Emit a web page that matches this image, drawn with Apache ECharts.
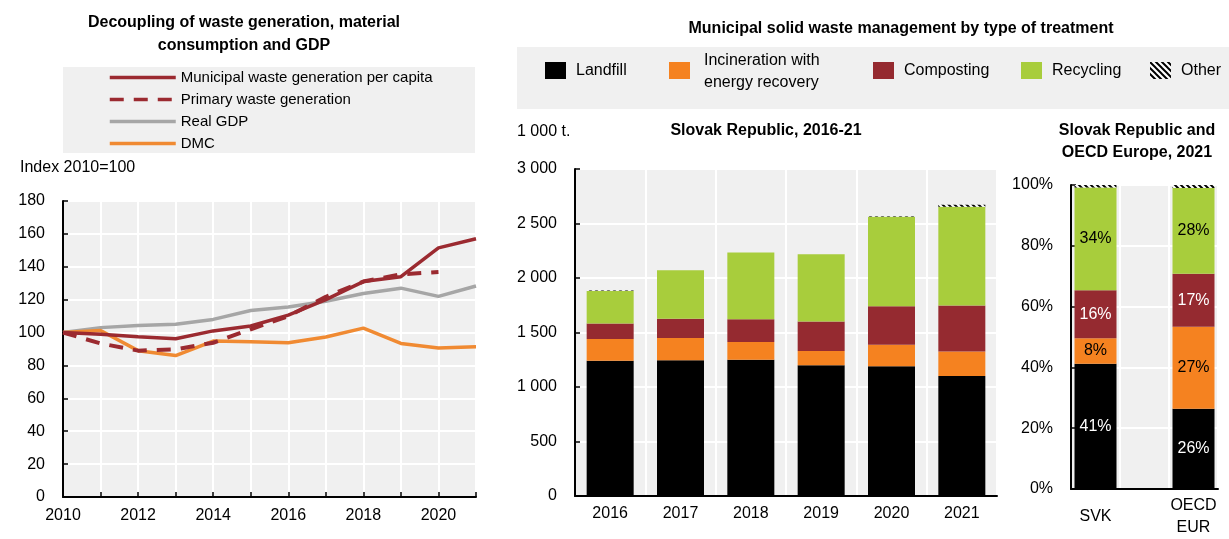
<!DOCTYPE html>
<html>
<head>
<meta charset="utf-8">
<script src="https://cdn.jsdelivr.net/npm/echarts@6/dist/echarts.min.js"></script>
<style>
  html, body { margin: 0; padding: 0; background: #fff; }
  #chart { width: 1229px; height: 539px; }
</style>
</head>
<body>
<div id="chart"></div>
<script>
// left panel: index 2010=100
const years = ['2010', '2011', '2012', '2013', '2014', '2015', '2016', '2017', '2018', '2019', '2020', '2021'];
const municipalWaste = [100, 99, 97.5, 96.2, 101, 104, 110.6, 120, 131, 134, 151.5, 157];
const primaryWaste = [100, 93.4, 89, 89.8, 93.8, 102, 110, 121.7, 131, 135.4, 136.8, null];
const realGdp = [100, 103, 104.3, 105, 108, 113.4, 115.6, 119, 123.7, 127, 122, 128.3];
const dmc = [100, 101.3, 89, 86, 94.8, 94.4, 93.8, 97.3, 102.7, 93.4, 90.6, 91.4];

// middle panel: 1 000 t.
const barYears = ['2016', '2017', '2018', '2019', '2020', '2021'];
const landfill = [1240, 1245, 1250, 1200, 1190, 1100];
const incineration = [200, 205, 162, 130, 198, 225];
const composting = [142, 177, 210, 270, 353, 423];
const recycling = [298, 443, 611, 619, 822, 905];
const other = [6, 0, 0, 0, 4, 20];

// right panel: shares 2021 (%)
const shareCats = ['SVK', '', 'OECD\nEUR'];
const shareLandfill = [41.2, '-', 26.4];
const shareIncineration = [8.4, '-', 27.0];
const shareComposting = [15.8, '-', 17.4];
const shareRecycling = [33.8, '-', 28.2];
const shareOther = [0.8, '-', 1.0];

const FONT = "'Liberation Sans', Arial, sans-serif";
const C_LAND = '#000000';
const C_INC = '#f58220';
const C_COMP = '#952a30';
const C_REC = '#a8cd3c';
const C_RED = '#9b2a30';
const C_GDP = '#a6a6a6';
const C_DMC = '#f08a32';
const BG = '#f0f0f0';

// hatch pattern for "Other"
function makeHatch() {
  const c = document.createElement('canvas');
  c.width = 6;
  c.height = 6;
  const ctx = c.getContext('2d');
  ctx.fillStyle = '#fff';
  ctx.fillRect(0, 0, 6, 6);
  ctx.strokeStyle = '#000';
  ctx.lineWidth = 2;
  ctx.beginPath();
  ctx.moveTo(-3, -3); ctx.lineTo(9, 9);
  ctx.moveTo(-6, 0); ctx.lineTo(0, 6);
  ctx.moveTo(0, -6); ctx.lineTo(6, 0);
  ctx.moveTo(3, -3); ctx.lineTo(9, 3);
  ctx.moveTo(-3, 3); ctx.lineTo(3, 9);
  ctx.stroke();
  return { image: c, repeat: 'repeat' };
}
const HATCH = makeHatch();

function spaced(v) {
  return String(v).replace(/\B(?=(\d{3})+(?!\d))/g, ' ');
}

const chart = echarts.init(document.getElementById('chart'));

const axisText = { color: '#000', fontSize: 16, fontFamily: FONT };
const blackLine = { lineStyle: { color: '#000', width: 2 } };
const whiteSplit = { show: true, lineStyle: { color: '#fff', width: 2 } };

function legendItem(name, left, top) {
  return {
    data: [name],
    left: left,
    top: top,
    icon: 'rect',
    itemWidth: 21,
    itemHeight: 17,
    itemGap: 0,
    padding: 0,
    selectedMode: false,
    textStyle: { color: '#000', fontSize: 16, fontFamily: FONT, padding: [0, 0, 0, 5] }
  };
}

function label(color) {
  return {
    show: true,
    color: color,
    fontSize: 16,
    fontFamily: FONT,
    formatter: p => Math.round(p.value) + '%'
  };
}

const option = {
  animation: false,
  textStyle: { fontFamily: FONT },
  graphic: [
    { type: 'rect', shape: { x: 63, y: 67, width: 412, height: 86 }, style: { fill: BG }, z: -1 },
    { type: 'rect', shape: { x: 517, y: 47, width: 712, height: 62 }, style: { fill: BG }, z: -1 },
    {
      type: 'text', x: 244, y: 34,
      style: {
        text: 'Decoupling of waste generation, material\nconsumption and GDP',
        font: 'bold 16px ' + FONT, fill: '#000', align: 'center', verticalAlign: 'middle', lineHeight: 23
      }
    },
    { type: 'text', x: 20, y: 168, style: { text: 'Index 2010=100', font: '16px ' + FONT, fill: '#000', verticalAlign: 'middle' } },
    {
      type: 'text', x: 901, y: 29,
      style: { text: 'Municipal solid waste management by type of treatment', font: 'bold 16px ' + FONT, fill: '#000', align: 'center', verticalAlign: 'middle' }
    },
    { type: 'text', x: 517, y: 132, style: { text: '1 000 t.', font: '16px ' + FONT, fill: '#000', verticalAlign: 'middle' } },
    {
      type: 'text', x: 766, y: 131,
      style: { text: 'Slovak Republic, 2016-21', font: 'bold 16px ' + FONT, fill: '#000', align: 'center', verticalAlign: 'middle' }
    },
    {
      type: 'text', x: 1137, y: 142,
      style: { text: 'Slovak Republic and\nOECD Europe, 2021', font: 'bold 16px ' + FONT, fill: '#000', align: 'center', verticalAlign: 'middle', lineHeight: 22 }
    },
    {
      type: 'text', x: 704, y: 72,
      style: { text: 'Incineration with\nenergy recovery', font: '16px ' + FONT, fill: '#000', verticalAlign: 'middle', lineHeight: 22 }
    },
    { type: 'rect', shape: { x: 669, y: 62, width: 21, height: 17 }, style: { fill: C_INC } }
  ],
  legend: [
    {
      data: ['Municipal waste generation per capita', 'Primary waste generation', 'Real GDP', 'DMC'],
      orient: 'vertical',
      left: 108,
      top: 70,
      padding: 0,
      itemWidth: 66,
      itemHeight: 14,
      itemGap: 7,
      selectedMode: false,
      itemStyle: { color: 'rgba(0,0,0,0)', borderColor: 'rgba(0,0,0,0)', borderWidth: 0 },
      lineStyle: { width: 3.5 },
      textStyle: { color: '#000', fontSize: 15, fontFamily: FONT }
    },
    legendItem('Landfill', 545, 62),
    legendItem('Composting', 873, 62),
    legendItem('Recycling', 1021, 62),
    legendItem('Other', 1150, 62)
  ],
  grid: [
    { left: 63, right: 753, top: 201, bottom: 42, show: true, backgroundColor: BG, borderWidth: 0 },
    { left: 575, right: 232, top: 169, bottom: 43, show: true, backgroundColor: BG, borderWidth: 0 },
    { left: 1071, right: 11, top: 185, bottom: 47, show: true, backgroundColor: BG, borderWidth: 0 }
  ],
  xAxis: [
    {
      gridIndex: 0, type: 'category', data: years, boundaryGap: false,
      axisLine: blackLine,
      axisTick: { inside: true, length: 5, interval: 0, lineStyle: { color: '#000', width: 1.5 } },
      axisLabel: Object.assign({ interval: 1, margin: 11 }, axisText),
      splitLine: Object.assign({ interval: 0 }, whiteSplit)
    },
    {
      gridIndex: 1, type: 'category', data: barYears,
      axisLine: blackLine,
      axisTick: { inside: true, length: 5, lineStyle: { color: '#000', width: 1.5 } },
      axisLabel: Object.assign({ margin: 10 }, axisText),
      splitLine: whiteSplit
    },
    {
      gridIndex: 2, type: 'category', data: shareCats,
      axisLine: blackLine,
      axisTick: { inside: true, length: 5, lineStyle: { color: '#000', width: 1.5 } },
      axisLabel: Object.assign({ margin: 28, verticalAlign: 'middle', lineHeight: 22, interval: 0 }, axisText),
      splitLine: whiteSplit
    }
  ],
  yAxis: [
    {
      gridIndex: 0, type: 'value', min: 0, max: 180, interval: 20,
      axisLine: Object.assign({ show: true }, blackLine),
      axisTick: { show: true, inside: true, length: 5, lineStyle: { color: '#000', width: 1.5 } },
      axisLabel: Object.assign({ margin: 18 }, axisText),
      splitLine: whiteSplit
    },
    {
      gridIndex: 1, type: 'value', min: 0, max: 3000, interval: 500,
      axisLine: Object.assign({ show: true }, blackLine),
      axisTick: { show: true, inside: true, length: 5, lineStyle: { color: '#000', width: 1.5 } },
      axisLabel: Object.assign({ margin: 18, formatter: spaced }, axisText),
      splitLine: whiteSplit
    },
    {
      gridIndex: 2, type: 'value', min: 0, max: 100, interval: 20,
      axisLine: Object.assign({ show: true }, blackLine),
      axisTick: { show: true, inside: true, length: 5, lineStyle: { color: '#000', width: 1.5 } },
      axisLabel: Object.assign({ margin: 18, formatter: '{value}%' }, axisText),
      splitLine: whiteSplit
    }
  ],
  series: [
    { name: 'Real GDP', type: 'line', xAxisIndex: 0, yAxisIndex: 0, data: realGdp, symbol: 'none', color: C_GDP, lineStyle: { width: 3.5 } },
    { name: 'DMC', type: 'line', xAxisIndex: 0, yAxisIndex: 0, data: dmc, symbol: 'none', color: C_DMC, lineStyle: { width: 3.5 } },
    { name: 'Primary waste generation', type: 'line', xAxisIndex: 0, yAxisIndex: 0, data: primaryWaste, symbol: 'none', color: C_RED, lineStyle: { width: 4, type: [14, 10] } },
    { name: 'Municipal waste generation per capita', type: 'line', xAxisIndex: 0, yAxisIndex: 0, data: municipalWaste, symbol: 'none', color: C_RED, lineStyle: { width: 3.5 } },

    { name: 'Landfill', type: 'bar', stack: 'mid', xAxisIndex: 1, yAxisIndex: 1, data: landfill, barWidth: 47, color: C_LAND },
    { name: 'Incineration with energy recovery', type: 'bar', stack: 'mid', xAxisIndex: 1, yAxisIndex: 1, data: incineration, color: C_INC },
    { name: 'Composting', type: 'bar', stack: 'mid', xAxisIndex: 1, yAxisIndex: 1, data: composting, color: C_COMP },
    { name: 'Recycling', type: 'bar', stack: 'mid', xAxisIndex: 1, yAxisIndex: 1, data: recycling, color: C_REC },
    { name: 'Other', type: 'bar', stack: 'mid', xAxisIndex: 1, yAxisIndex: 1, data: other, itemStyle: { color: HATCH } },

    { name: 'Landfill', type: 'bar', stack: 'share', xAxisIndex: 2, yAxisIndex: 2, data: shareLandfill, barWidth: 42, color: C_LAND, label: label('#fff') },
    { name: 'Incineration with energy recovery', type: 'bar', stack: 'share', xAxisIndex: 2, yAxisIndex: 2, data: shareIncineration, color: C_INC, label: label('#000') },
    { name: 'Composting', type: 'bar', stack: 'share', xAxisIndex: 2, yAxisIndex: 2, data: shareComposting, color: C_COMP, label: label('#fff') },
    { name: 'Recycling', type: 'bar', stack: 'share', xAxisIndex: 2, yAxisIndex: 2, data: shareRecycling, color: C_REC, label: label('#000') },
    { name: 'Other', type: 'bar', stack: 'share', xAxisIndex: 2, yAxisIndex: 2, data: shareOther, itemStyle: { color: HATCH } }
  ]
};

chart.setOption(option);
</script>
</body>
</html>
